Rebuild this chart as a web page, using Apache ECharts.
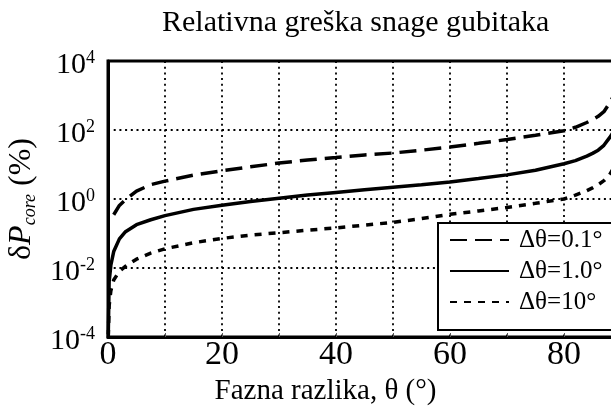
<!DOCTYPE html>
<html>
<head>
<meta charset="utf-8">
<script src="https://cdn.jsdelivr.net/npm/echarts@6/dist/echarts.min.js"></script>
<style>
  html, body { margin: 0; padding: 0; background: #fff; }
  #chart { width: 611px; height: 412px; }
</style>
</head>
<body>
<div id="chart"></div>
<script>
const FONT = "'Liberation Serif', 'DejaVu Serif', serif"

// phase angle (deg) sample points
const theta = [0.05, 0.2, 0.5, 1, 2, 3, 5, 7.5, 10, 15, 20, 25, 30, 35, 40, 45, 50, 55, 60, 65, 70, 75, 80, 82, 84, 85, 86, 87, 88, 88.5, 89]

// relative error of core loss power, %
const err01 = [null, null, null, 0.35, 0.65, 0.93, 1.7, 2.6, 3.3, 4.9, 6.6, 8.6, 11, 13.5, 16, 19, 21.5, 26, 32, 41, 53, 70, 95, 120, 165, 200, 250, 340, 600, 850, 1200]
const err10 = [0.00012, 0.004, 0.012, 0.03, 0.07, 0.11, 0.18, 0.25, 0.33, 0.5, 0.66, 0.85, 1.05, 1.3, 1.55, 1.85, 2.2, 2.6, 3.1, 3.9, 5.0, 6.8, 10.5, 13, 17.5, 21, 26, 36, 60, 80, 110]
const err100 = [0.0001, 0.0008, 0.0022, 0.0045, 0.008, 0.011, 0.018, 0.027, 0.036, 0.054, 0.072, 0.09, 0.105, 0.125, 0.145, 0.175, 0.21, 0.27, 0.36, 0.45, 0.57, 0.75, 1.0, 1.3, 1.75, 2.1, 2.6, 3.4, 5.0, 7, 10]

const seriesNames = ['Δθ=0.1°', 'Δθ=1.0°', 'Δθ=10°']
const xLabels = [0, 20, 40, 60, 80]

const pairs = (ys) => theta.map((t, i) => [t, ys[i]]).filter((p) => p[1] != null)

function line(name, ys, dash) {
  return {
    name,
    type: 'line',
    symbol: 'none',
    data: pairs(ys),
    lineStyle: { color: '#000', width: 3.5, type: dash },
    itemStyle: { color: '#000' },
  }
}

const dotted = { color: '#000', width: 1.8, type: [2, 3.7] }

const option = {
  animation: false,
  backgroundColor: '#fff',
  title: {
    text: 'Relativna greška snage gubitaka',
    left: 157,
    top: 3,
    textStyle: { fontFamily: FONT, fontSize: 30, fontWeight: 'normal', color: '#000' },
  },
  // plot runs past the right edge of the picture (x = 90 is off canvas)
  grid: {
    left: 108, top: 61, width: 513, bottom: 75,
    outerBoundsMode: 'none',
    show: true, borderColor: '#000', borderWidth: 3,
  },
  legend: {
    orient: 'vertical',
    left: 438,
    top: 223,
    padding: [4, 60, 15, 11],
    itemWidth: 59,
    itemHeight: 14,
    itemGap: 5,
    backgroundColor: '#fff',
    borderColor: '#000',
    borderWidth: 2,
    borderRadius: 0,
    itemStyle: { opacity: 0 },
    textStyle: { fontFamily: FONT, fontSize: 25, lineHeight: 26, color: '#000', padding: [0, 0, 0, 5] },
    data: seriesNames,
  },
  xAxis: {
    type: 'value',
    min: 0,
    max: 90,
    interval: 10,
    name: 'Fazna razlika, θ (°)',
    nameLocation: 'middle',
    nameGap: 30,
    nameTextStyle: { fontFamily: FONT, fontSize: 29, color: '#000', padding: [0, 78, 0, 0] },
    axisLine: { lineStyle: { color: '#000', width: 3 } },
    axisTick: { inside: true, length: 4, lineStyle: { color: '#555', width: 1 } },
    axisLabel: {
      margin: 1,
      fontFamily: FONT, fontSize: 34, color: '#000',
      formatter: (v) => (xLabels.includes(v) ? String(v) : ''),
    },
    splitLine: { show: true, lineStyle: dotted },
  },
  yAxis: {
    type: 'log',
    logBase: 10,
    min: 1e-4,
    max: 1e4,
    interval: 2,
    name: '{d|δ}{p|P}{s|core}{d| (%)}',
    nameLocation: 'middle',
    nameRotate: 90,
    nameGap: 64,
    nameTextStyle: {
      rich: {
        d: { fontFamily: FONT, fontSize: 32, lineHeight: 36, color: '#000' },
        p: { fontFamily: FONT, fontSize: 32, lineHeight: 36, fontStyle: 'italic', color: '#000' },
        s: { fontFamily: FONT, fontSize: 18, lineHeight: 18, fontStyle: 'italic', verticalAlign: 'bottom', color: '#000' },
      },
    },
    axisLine: { lineStyle: { color: '#000', width: 3 } },
    axisTick: { show: false },
    axisLabel: {
      margin: 13,
      padding: [8, 0, 0, 0],
      formatter: (v) => '{b|10}{s|' + Math.round(Math.log10(v)) + '}',
      rich: {
        b: { fontFamily: FONT, fontSize: 30, lineHeight: 32, color: '#000' },
        s: { fontFamily: FONT, fontSize: 18, lineHeight: 18, verticalAlign: 'top', color: '#000' },
      },
    },
    splitLine: { show: true, lineStyle: dotted },
  },
  series: [
    line(seriesNames[0], err01, [17, 8]),
    line(seriesNames[1], err10, 'solid'),
    line(seriesNames[2], err100, [7, 7]),
  ],
}

const chart = echarts.init(document.getElementById('chart'))
chart.setOption(option)
</script>
</body>
</html>
